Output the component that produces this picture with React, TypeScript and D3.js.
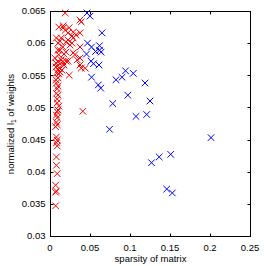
import { useEffect, useRef } from 'react';
import * as d3 from 'd3';

// tick values and their labels
const xTicks = [0, 0.05, 0.1, 0.15, 0.2, 0.25];
const xTickLabels = ['0', '0.05', '0.1', '0.15', '0.2', '0.25'];
const yTicks = [0.03, 0.035, 0.04, 0.045, 0.05, 0.055, 0.06, 0.065];
const yTickLabels = ['0.03', '0.035', '0.04', '0.045', '0.05', '0.055', '0.06', '0.065'];

// red series: [sparsity, normalized l1]
const redPoints: [number, number][] = [
  [0.019, 0.0647], [0.039, 0.0633], [0.0375, 0.0636], [0.011, 0.0625], [0.0165, 0.0627],
  [0.0165, 0.0624], [0.024, 0.0624], [0.029, 0.0617], [0.0225, 0.0616], [0.0325, 0.0613],
  [0.0375, 0.0616], [0.0275, 0.0611], [0.019, 0.062], [0.008, 0.0608], [0.014, 0.0608],
  [0.0225, 0.0605], [0.029, 0.0608], [0.01, 0.06], [0.0125, 0.0603], [0.016, 0.0594],
  [0.02, 0.0602], [0.0275, 0.06], [0.025, 0.0597], [0.0375, 0.0594], [0.01, 0.0589],
  [0.02, 0.0586], [0.0125, 0.0589], [0.011, 0.0582], [0.0175, 0.0583], [0.029, 0.0585],
  [0.031, 0.0582], [0.0375, 0.0577], [0.034, 0.0574], [0.006, 0.0577], [0.014, 0.0574],
  [0.0225, 0.0572], [0.01, 0.0571], [0.016, 0.0571], [0.02, 0.0572], [0.0075, 0.0569],
  [0.0125, 0.0568], [0.0175, 0.0566], [0.0375, 0.0566], [0.039, 0.0561], [0.044, 0.0561],
  [0.0075, 0.0563], [0.0115, 0.0561], [0.01, 0.0558], [0.015, 0.0558], [0.0125, 0.0555],
  [0.009, 0.0554], [0.011, 0.0552], [0.024, 0.055], [0.01, 0.0546], [0.0075, 0.0543],
  [0.008, 0.0538], [0.01, 0.0533], [0.009, 0.0529], [0.008, 0.0522], [0.01, 0.0519],
  [0.009, 0.0513], [0.009, 0.0507], [0.011, 0.0502], [0.01, 0.0496], [0.041, 0.0494],
  [0.009, 0.0493], [0.008, 0.0488], [0.009, 0.0484], [0.008, 0.0477], [0.009, 0.0473],
  [0.007, 0.047], [0.008, 0.0454], [0.009, 0.0449], [0.008, 0.0445], [0.009, 0.044],
  [0.008, 0.0423], [0.008, 0.041], [0.009, 0.0397], [0.007, 0.0379], [0.007, 0.0368],
  [0.008, 0.037], [0.007, 0.0347],
];

// blue series
const bluePoints: [number, number][] = [
  [0.0463, 0.0647], [0.05, 0.0642], [0.065, 0.0616], [0.0469, 0.06], [0.0519, 0.0594],
  [0.0619, 0.0596], [0.0619, 0.0589], [0.0638, 0.0586], [0.0569, 0.0587], [0.0456, 0.0583],
  [0.0513, 0.0572], [0.0544, 0.0568], [0.0613, 0.0566], [0.0519, 0.0547], [0.0604, 0.0535],
  [0.0634, 0.053], [0.0784, 0.0506], [0.0744, 0.0466], [0.0825, 0.0543], [0.09, 0.0547],
  [0.0944, 0.0557], [0.1041, 0.0553], [0.1188, 0.0538], [0.0973, 0.0519], [0.125, 0.051],
  [0.1075, 0.0486], [0.1209, 0.0489], [0.2013, 0.0453], [0.1509, 0.0427], [0.1365, 0.0423],
  [0.1269, 0.0414], [0.1459, 0.0373], [0.1529, 0.0367],
];

const W = 264;
const H = 266;
const margin = { top: 11, right: 14, bottom: 30, left: 50 };
const font = 'Liberation Sans, Arial, Helvetica, sans-serif';

export default function App() {
  const svgRef = useRef<SVGSVGElement>(null);

  useEffect(() => {
    if (!svgRef.current) return;
    const svg = d3.select(svgRef.current);
    svg.selectAll('*').remove();

    const x = d3.scaleLinear().domain([0, 0.25]).range([margin.left, W - margin.right]);
    const y = d3.scaleLinear().domain([0.03, 0.065]).range([H - margin.bottom, margin.top]);

    svg.append('rect').attr('width', W).attr('height', H).attr('fill', '#fff');

    const crisp = (v: number) => Math.round(v) + 0.5;
    const x0 = crisp(x(0)), x1 = crisp(x(0.25));
    const y0 = crisp(y(0.03)), y1 = crisp(y(0.065));

    // ticks inward on all four sides
    const tk = 3;
    const g = svg.append('g').attr('stroke', '#000').attr('stroke-width', 1);
    xTicks.forEach((t) => {
      const px = crisp(x(t));
      g.append('line').attr('x1', px).attr('x2', px).attr('y1', y0).attr('y2', y0 - tk);
      g.append('line').attr('x1', px).attr('x2', px).attr('y1', y1).attr('y2', y1 + tk);
    });
    yTicks.forEach((t) => {
      const py = crisp(y(t));
      g.append('line').attr('x1', x0).attr('x2', x0 + tk).attr('y1', py).attr('y2', py);
      g.append('line').attr('x1', x1).attr('x2', x1 - tk).attr('y1', py).attr('y2', py);
    });

    // tick labels
    svg.append('g')
      .selectAll('text')
      .data(xTicks)
      .join('text')
      .attr('x', (d) => x(d))
      .attr('y', y0 + 14)
      .attr('text-anchor', 'middle')
      .attr('font-family', font)
      .attr('font-size', 9.5)
      .attr('fill', '#000')
      .text((_, i) => xTickLabels[i]);

    svg.append('g')
      .selectAll('text')
      .data(yTicks)
      .join('text')
      .attr('x', x0 - 5)
      .attr('y', (d) => y(d))
      .attr('dy', '0.35em')
      .attr('text-anchor', 'end')
      .attr('font-family', font)
      .attr('font-size', 9.5)
      .attr('fill', '#000')
      .text((_, i) => yTickLabels[i]);

    // axis titles
    svg.append('text')
      .attr('x', (x0 + x1) / 2)
      .attr('y', 262)
      .attr('text-anchor', 'middle')
      .attr('font-family', font)
      .attr('font-size', 9.5)
      .text('sparsity of matrix');

    const yl = svg.append('text')
      .attr('transform', `translate(14,${(y0 + y1) / 2}) rotate(-90)`)
      .attr('text-anchor', 'middle')
      .attr('font-family', font)
      .attr('font-size', 9.5);
    yl.append('tspan').text('normalized l');
    yl.append('tspan').attr('font-size', 6.5).attr('dy', 2).text('1');
    yl.append('tspan').attr('dy', -2).text(' of weights');

    // markers
    const s = 3.3;
    const cross = (px: number, py: number) =>
      `M${px - s},${py - s}L${px + s},${py + s}M${px - s},${py + s}L${px + s},${py - s}`;

    svg.append('g')
      .selectAll('path')
      .data(redPoints)
      .join('path')
      .attr('d', (d) => cross(x(d[0]), y(d[1])))
      .attr('stroke', '#ff0000')
      .attr('stroke-width', 1)
      .attr('fill', 'none');

    svg.append('g')
      .selectAll('path')
      .data(bluePoints)
      .join('path')
      .attr('d', (d) => cross(x(d[0]), y(d[1])))
      .attr('stroke', '#0000ff')
      .attr('stroke-width', 1)
      .attr('fill', 'none');

    // box
    svg.append('rect')
      .attr('x', x0)
      .attr('y', y1)
      .attr('width', x1 - x0)
      .attr('height', y0 - y1)
      .attr('fill', 'none')
      .attr('stroke', '#000')
      .attr('stroke-width', 1);
  }, []);

  return (
    <svg
      ref={svgRef}
      width={W}
      height={H}
      style={{ position: 'absolute', left: 0, top: 0, display: 'block' }}
    />
  );
}
